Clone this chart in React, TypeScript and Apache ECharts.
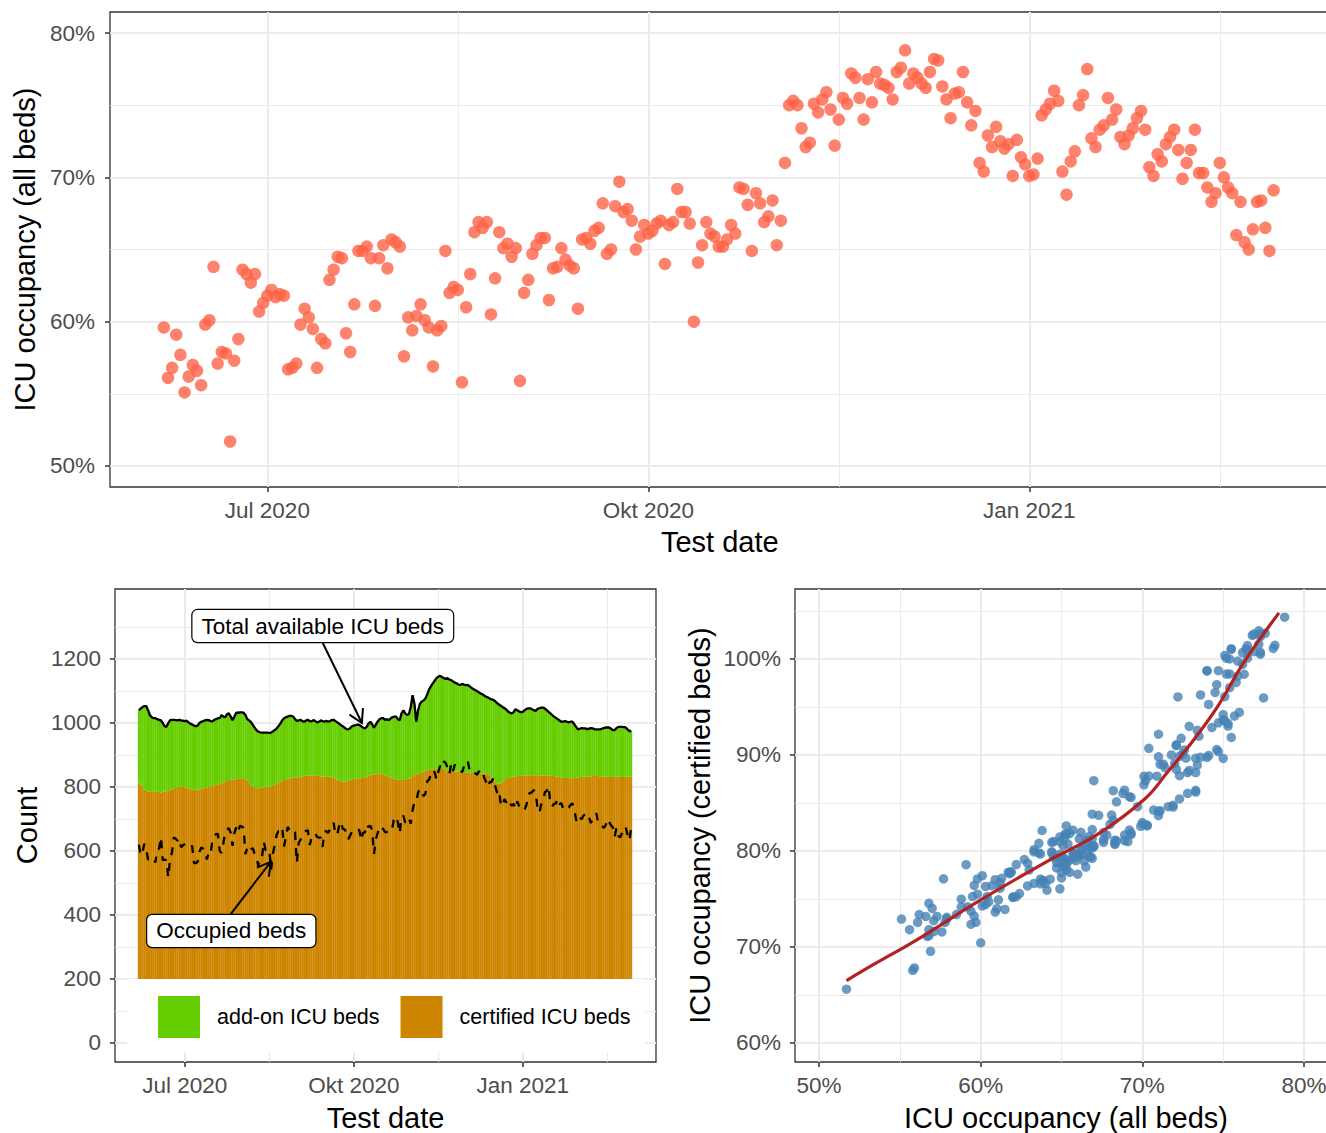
import React, { useEffect, useRef } from "react";
import * as echarts from "echarts";

// Day offsets are counted from 2020-07-01; first observation is 2020-06-06.
const firstDay = -25;

// ICU occupancy, all beds (%), one value per day from 2020-06-06
const occAll = [
  59.6, 56.1, 56.8, 59.1, 57.7, 55.1, 56.2, 57.0, 56.6, 55.6,
  59.8, 60.1, 63.8, 57.1, 57.9, 57.8, 51.7, 57.3, 58.8, 63.6,
  63.3, 62.7, 63.3, 60.7, 61.3, 61.8, 62.2, 61.7, 61.9, 61.8,
  56.7, 56.8, 57.1, 59.8, 60.9, 60.3, 59.5, 56.8, 58.8, 58.5,
  62.9, 63.6, 64.5, 64.4, 59.2, 57.9, 61.2, 64.9, 64.9, 65.2,
  64.4, 61.1, 64.4, 65.3, 63.7, 65.7, 65.5, 65.2, 57.6, 60.3,
  59.4, 60.4, 61.2, 60.1, 59.6, 56.9, 59.4, 59.7, 64.9, 62.0,
  62.4, 62.2, 55.8, 61.0, 63.3, 66.2, 66.9, 66.5, 66.9, 60.5,
  63.0, 66.2, 65.1, 65.4, 64.5, 65.1, 55.9, 62.0, 62.9, 64.7,
  65.3, 65.8, 65.8, 61.5, 63.7, 63.8, 65.1, 64.3, 63.9, 63.7,
  60.9, 65.7, 65.8, 65.4, 66.3, 66.5, 68.2, 64.7, 65.0, 68.0,
  69.7, 67.6, 67.8, 67.0, 65.0, 65.9, 66.7, 66.1, 66.3, 66.8,
  67.0, 64.0, 66.7, 66.9, 69.2, 67.6, 67.6, 66.8, 60.0, 64.1,
  65.3, 66.9, 66.1, 65.9, 65.2, 65.2, 65.7, 66.7, 66.1, 69.3,
  69.2, 68.1, 64.9, 68.9, 68.2, 66.9, 67.3, 68.4, 65.3, 67.0,
  71.0, 75.0, 75.3, 75.0, 73.4, 72.1, 72.4, 75.1, 74.5, 75.4,
  75.9, 74.7, 72.2, 74.0, 75.5, 75.1, 77.2, 76.9, 75.5, 74.0,
  76.8, 75.2, 77.3, 76.5, 76.4, 76.2, 75.4, 77.3, 77.6, 78.8,
  76.5, 77.2, 76.9, 76.5, 76.2, 77.3, 78.2, 78.1, 76.3, 75.4,
  74.1, 75.8, 75.9, 77.3, 75.2, 73.6, 74.6, 71.0, 70.4, 72.9,
  72.1, 73.5, 72.5, 72.0, 72.3, 70.1, 72.6, 71.4, 70.9, 70.1,
  70.2, 71.3, 74.3, 74.7, 75.1, 76.0, 75.3, 70.4, 68.8, 71.1,
  71.8, 75.0, 75.7, 77.5, 72.7, 72.1, 73.3, 73.6, 75.5, 74.0,
  74.7, 72.8, 72.3, 72.9, 73.4, 74.1, 74.6, 73.3, 70.7, 70.1,
  71.6, 71.1, 72.3, 72.8, 73.3, 71.9, 69.9, 71.0, 71.9, 73.3,
  70.3, 70.3, 69.3, 68.3, 68.9, 71.0, 70.0, 69.3, 68.9, 66.0,
  68.3, 65.5, 65.0, 66.4, 68.3, 68.4, 66.5, 64.9, 69.1,
];

// Total available ICU beds per day
const totalBeds = [
  1040, 1045, 1050, 1053, 1053, 1040, 1025, 1018, 1015, 1015,
  1012, 1010, 1008, 1000, 990, 988, 1000, 1009, 1010, 1010,
  1009, 1008, 1010, 1008, 1007, 1006, 1007, 1002, 998, 995,
  992, 990, 992, 1000, 1004, 1006, 1008, 1010, 1009, 1006,
  1005, 1010, 1012, 1015, 1015, 1025, 1020, 1018, 1028, 1030,
  1020, 1009, 1020, 1032, 1032, 1033, 1033, 1032, 1025, 1012,
  1008, 1003, 995, 985, 978, 973, 971, 970, 970, 970,
  970, 969, 970, 974, 978, 983, 990, 998, 1008, 1015,
  1018, 1020, 1022, 1022, 1020, 1012, 1007, 1008, 1010, 1006,
  1004, 1008, 1010, 1006, 1005, 1009, 1006, 1002, 1004, 1008,
  1006, 1004, 1007, 1004, 1006, 1009, 1010, 1006, 1002, 998,
  993, 990, 985, 981, 980, 984, 990, 992, 993, 995,
  994, 990, 986, 983, 988, 998, 1004, 996, 985, 995,
  1005, 1012, 1015, 1015, 1010, 1012, 1009, 1014, 1018, 1020,
  1020, 1012, 1009, 1030, 1040, 1030, 1025, 1028, 1050, 1087,
  1060, 1004, 1040, 1060, 1067, 1070, 1077, 1090, 1105, 1115,
  1124, 1132, 1140, 1145, 1147, 1144, 1140, 1138, 1140, 1136,
  1134, 1130, 1126, 1124, 1120, 1119, 1122, 1120, 1118, 1119,
  1115, 1110, 1106, 1103, 1100, 1096, 1092, 1090, 1086, 1082,
  1080, 1076, 1074, 1072, 1068, 1062, 1058, 1054, 1050, 1046,
  1042, 1036, 1032, 1030, 1034, 1043, 1040, 1036, 1034, 1035,
  1040, 1044, 1046, 1046, 1043, 1040, 1038, 1044, 1046, 1048,
  1048, 1045, 1040, 1035, 1030, 1025, 1020, 1016, 1012, 1008,
  1004, 1004, 1006, 1004, 1002, 1004, 1004, 996, 988, 980,
  982, 984, 983, 983, 981, 982, 984, 983, 981, 980,
  980, 980, 982, 984, 986, 986, 986, 982, 978, 978,
  984, 988, 988, 988, 987, 986, 980, 975, 975,
];

// Certified ICU beds per day
const certifiedBeds = [
  811, 808, 800, 792, 788, 786, 785, 784, 785, 786,
  785, 784, 783, 785, 786, 787, 788, 790, 792, 795,
  797, 799, 800, 801, 800, 799, 797, 795, 794, 792,
  791, 790, 791, 792, 794, 795, 797, 799, 800, 802,
  803, 805, 806, 808, 810, 812, 814, 816, 819, 822,
  823, 823, 822, 824, 825, 826, 827, 827, 825, 820,
  812, 805, 800, 797, 796, 796, 797, 798, 799, 800,
  801, 801, 801, 803, 808, 812, 815, 818, 820, 822,
  822, 824, 826, 828, 829, 830, 830, 831, 832, 832,
  834, 835, 836, 837, 836, 837, 835, 836, 834, 833,
  832, 833, 831, 832, 832, 830, 828, 826, 823, 820,
  818, 817, 818, 817, 819, 821, 823, 825, 826, 827,
  827, 827, 828, 830, 832, 834, 836, 838, 839, 840,
  841, 843, 842, 840, 836, 834, 832, 830, 828, 826,
  824, 823, 822, 822, 822, 822, 824, 826, 830, 834,
  838, 840, 842, 844, 846, 848, 850, 852, 853, 854,
  855, 856, 857, 858, 857, 856, 855, 853, 852, 851,
  850, 849, 848, 848, 847, 847, 846, 846, 845, 845,
  845, 844, 844, 843, 843, 843, 842, 842, 842, 841,
  840, 836, 830, 823, 816, 812, 811, 812, 815, 820,
  825, 828, 830, 832, 832, 833, 834, 834, 835, 835,
  836, 836, 837, 837, 837, 837, 838, 837, 837, 837,
  836, 837, 837, 836, 835, 835, 834, 833, 832, 831,
  830, 829, 828, 828, 827, 827, 827, 828, 829, 830,
  831, 831, 832, 832, 833, 833, 833, 834, 834, 834,
  834, 833, 833, 833, 832, 832, 832, 831, 831, 832,
  832, 832, 832, 831, 831, 832, 832, 832, 832,
];

// Smoothed fit: x = all beds %, y = certified beds %
const smoothX = [51.7, 53.3, 56.1, 59.9, 64.2, 67.2, 70.2, 71.6, 73.1, 74.6, 76.3, 78.45];
const smoothY = [66.5, 68.1, 70.8, 74.8, 79.0, 81.7, 85.5, 88.3, 91.4, 94.9, 99.7, 104.8];

// Axis ticks
const dateTickDays = [0, 92, 184];
const dateTickLabels = ["Jul 2020", "Okt 2020", "Jan 2021"];
const dateMinorDays = [-46, 46, 138, 230];
const topPctTicks = [50, 60, 70, 80];
const topPctMinor = [55, 65, 75];
const countTicks = [0, 200, 400, 600, 800, 1000, 1200];
const countMinor = [100, 300, 500, 700, 900, 1100, 1300];
const brXTicks = [50, 60, 70, 80];
const brXMinor = [55, 65, 75];
const brYTicks = [60, 70, 80, 90, 100];
const brYMinor = [65, 75, 85, 95, 105];

// Annotations (data coordinates in the bed-count panel)
const annotations = [
  { text: "Total available ICU beds", at: [75.1, 1303], from: [75.1, 1250], to: [96.4, 1000] },
  { text: "Occupied beds", at: [25.3, 350], from: [25.0, 403], to: [46.8, 566] },
];

const FONT = "'Liberation Sans', Arial, Helvetica, sans-serif";
const labelStyle = { color: "#4D4D4D", fontSize: 22.5, fontFamily: FONT };
const nameStyle = { color: "#000000", fontSize: 29, fontFamily: FONT };

function majorAxis(gridIndex: number, min: number, max: number, ticks: number[], fmt: (v: number) => string, margin: number, name: string, nameGap: number) {
  return {
    type: "value",
    gridIndex,
    min,
    max,
    name,
    nameLocation: "middle",
    nameGap,
    nameTextStyle: nameStyle,
    axisLine: { show: false, onZero: false },
    axisTick: { show: true, customValues: ticks, length: 5, lineStyle: { color: "#333333", width: 1.5 } },
    axisLabel: { show: true, customValues: ticks, formatter: fmt, margin, ...labelStyle },
    splitLine: { show: true, lineStyle: { color: "#EBEBEB", width: 2 } },
  };
}

function minorAxis(gridIndex: number, min: number, max: number, ticks: number[]) {
  return {
    type: "value",
    gridIndex,
    min,
    max,
    axisLine: { show: false, onZero: false },
    axisTick: { show: false, customValues: ticks },
    axisLabel: { show: false, customValues: ticks },
    splitLine: { show: true, lineStyle: { color: "#EBEBEB", width: 1 } },
  };
}

const dateFmt = (v: number) => {
  const i = dateTickDays.indexOf(v);
  return i >= 0 ? dateTickLabels[i] : "";
};
const pctFmt = (v: number) => `${v}%`;
const numFmt = (v: number) => `${v}`;

export default function App() {
  const ref = useRef<HTMLDivElement>(null);

  useEffect(() => {
    if (!ref.current) return;
    const chart = echarts.init(ref.current, undefined, { renderer: "svg" });
    const n = Math.min(occAll.length, totalBeds.length, certifiedBeds.length);
    const days: number[] = [];
    for (let i = 0; i < n; i++) days.push(firstDay + i);

    const occupied = days.map((_, i) => (occAll[i] * totalBeds[i]) / 100);
    const certOcc = days.map((_, i) => (occupied[i] / certifiedBeds[i]) * 100);

    const dMin = -38;
    const dMax = 256.5;

    const option: any = {
      animation: false,
      backgroundColor: "#ffffff",
      grid: [
        { left: 110, top: 12, width: 1219.5, height: 475, show: true, borderColor: "#333333", borderWidth: 1.3, backgroundColor: "transparent", outerBoundsMode: "none" },
        { left: 115, top: 589, width: 541, height: 473, show: true, borderColor: "#333333", borderWidth: 1.3, backgroundColor: "transparent", outerBoundsMode: "none" },
        { left: 795, top: 589, width: 542, height: 473, show: true, borderColor: "#333333", borderWidth: 1.3, backgroundColor: "transparent", outerBoundsMode: "none" },
      ],
      xAxis: [
        majorAxis(0, dMin, dMax, dateTickDays, dateFmt, 12, "Test date", 40),
        minorAxis(0, dMin, dMax, dateMinorDays),
        majorAxis(1, dMin, dMax, dateTickDays, dateFmt, 12, "Test date", 41),
        minorAxis(1, dMin, dMax, dateMinorDays),
        majorAxis(2, 48.515, 82.04, brXTicks, pctFmt, 12, "ICU occupancy (all beds)", 41),
        minorAxis(2, 48.515, 82.04, brXMinor),
      ],
      yAxis: [
        majorAxis(0, 48.545, 81.455, topPctTicks, pctFmt, 15, "ICU occupancy (all beds)", 68.5),
        minorAxis(0, 48.545, 81.455, topPctMinor),
        majorAxis(1, -59.4, 1418.75, countTicks, numFmt, 14, "Count", 73.5),
        minorAxis(1, -59.4, 1418.75, countMinor),
        majorAxis(2, 58.02, 107.29, brYTicks, pctFmt, 14, "ICU occupancy (certified beds)", 80.5),
        minorAxis(2, 58.02, 107.29, brYMinor),
      ],
      legend: {
        show: true,
        data: ["add-on ICU beds", "certified ICU beds"],
        left: 127,
        top: 979,
        orient: "horizontal",
        icon: "rect",
        itemWidth: 42,
        itemHeight: 42,
        itemGap: 21,
        padding: [17, 15, 14, 31],
        backgroundColor: "#ffffff",
        selectedMode: false,
        textStyle: { color: "#000000", fontSize: 21.5, fontFamily: FONT, padding: [0, 0, 0, 12] },
      },
      series: [
        {
          type: "scatter",
          xAxisIndex: 0,
          yAxisIndex: 0,
          symbolSize: 12.5,
          itemStyle: { color: "#FF6347" },
          data: days.map((d, i) => [d, occAll[i]]),
        },
        {
          // stacked bars: value first, day second so the count is the stacked dimension
          type: "bar",
          name: "certified ICU beds",
          xAxisIndex: 2,
          yAxisIndex: 2,
          stack: "beds",
          encode: { x: 1, y: 0 },
          barWidth: 2.05,
          itemStyle: { color: "#CD8500" },
          data: days.map((d, i) => [certifiedBeds[i], d]),
        },
        {
          type: "bar",
          name: "add-on ICU beds",
          xAxisIndex: 2,
          yAxisIndex: 2,
          stack: "beds",
          encode: { x: 1, y: 0 },
          barWidth: 2.05,
          itemStyle: { color: "#66CD00" },
          data: days.map((d, i) => [totalBeds[i] - certifiedBeds[i], d]),
        },
        {
          type: "line",
          xAxisIndex: 2,
          yAxisIndex: 2,
          symbol: "none",
          lineStyle: { color: "#000000", width: 2.3 },
          data: days.map((d, i) => [d, totalBeds[i]]),
          z: 3,
        },
        {
          type: "line",
          xAxisIndex: 2,
          yAxisIndex: 2,
          symbol: "none",
          lineStyle: { color: "#000000", width: 2.3, type: [8, 8] },
          data: days.map((d, i) => [d, occupied[i]]),
          z: 3,
        },
        {
          type: "scatter",
          xAxisIndex: 4,
          yAxisIndex: 4,
          symbolSize: 9.5,
          itemStyle: { color: "#4682B4" },
          data: days.map((_, i) => [occAll[i], certOcc[i]]),
        },
        {
          type: "line",
          xAxisIndex: 4,
          yAxisIndex: 4,
          symbol: "none",
          smooth: 0.4,
          lineStyle: { color: "#B22222", width: 3.2 },
          data: smoothX.map((x, i) => [x, smoothY[i]]),
          z: 3,
        },
      ],
    };

    chart.setOption(option);

    const toPx = (pt: number[]) => chart.convertToPixel({ xAxisIndex: 2, yAxisIndex: 2 }, pt) as number[];
    const graphics: any[] = [];
    annotations.forEach((a) => {
      const c = toPx(a.at);
      const f = toPx(a.from);
      const t = toPx(a.to);
      const ang = Math.atan2(t[1] - f[1], t[0] - f[0]);
      const L = 15;
      const spread = Math.PI / 6;
      const p1 = [t[0] - L * Math.cos(ang - spread), t[1] - L * Math.sin(ang - spread)];
      const p2 = [t[0] - L * Math.cos(ang + spread), t[1] - L * Math.sin(ang + spread)];
      graphics.push({
        type: "line",
        z: 50,
        shape: { x1: f[0], y1: f[1], x2: t[0], y2: t[1] },
        style: { stroke: "#000000", lineWidth: 2 },
      });
      graphics.push({
        type: "polyline",
        z: 50,
        shape: { points: [p1, t, p2] },
        style: { stroke: "#000000", lineWidth: 2, fill: null },
      });
      graphics.push({
        type: "text",
        z: 60,
        x: c[0],
        y: c[1],
        style: {
          text: a.text,
          fontSize: 22.5,
          fontFamily: FONT,
          fill: "#000000",
          align: "center",
          verticalAlign: "middle",
          backgroundColor: "#ffffff",
          borderColor: "#000000",
          borderWidth: 1.2,
          borderRadius: 5,
          padding: [5, 9, 4, 9],
        },
      });
    });
    chart.setOption({ graphic: graphics });

    return () => chart.dispose();
  }, []);

  return (
    <div
      ref={ref}
      style={{ position: "absolute", left: 0, top: 0, width: 1326, height: 1133, background: "#fff" }}
    />
  );
}
